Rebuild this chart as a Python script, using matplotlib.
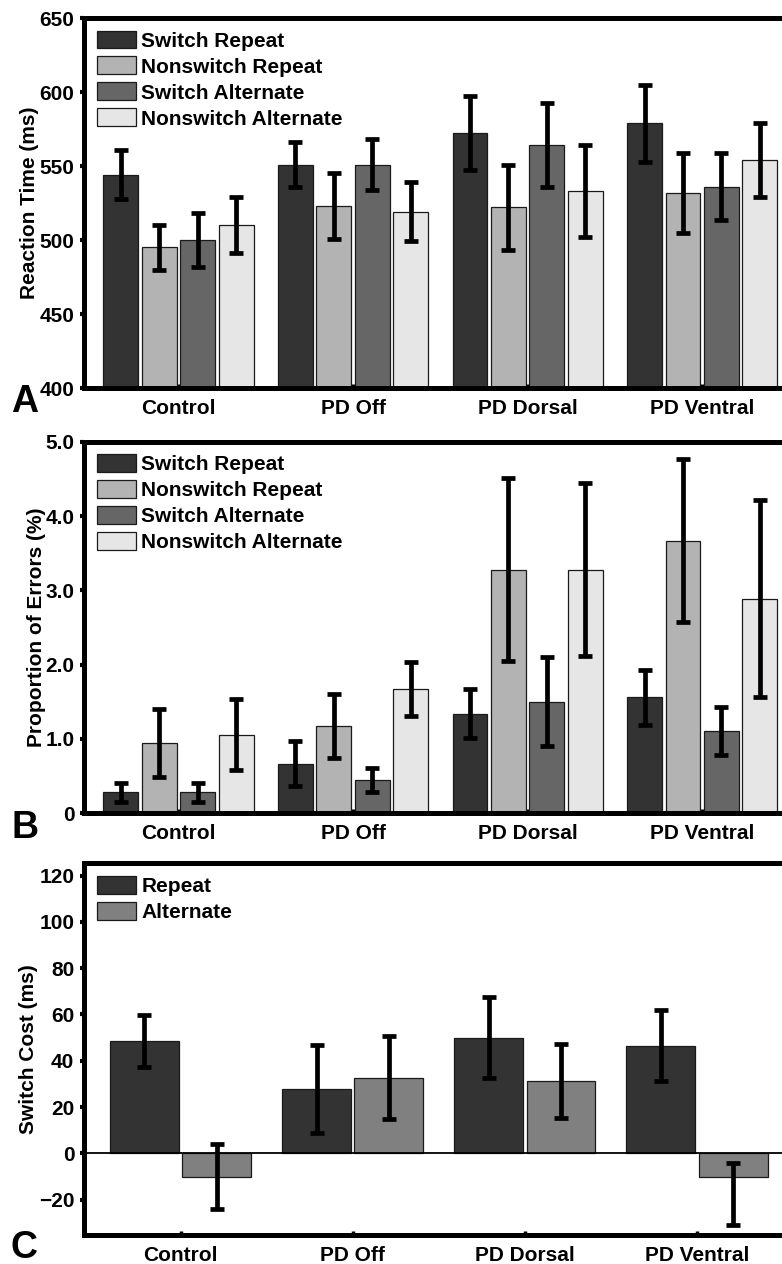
import matplotlib
matplotlib.use("Agg")
import matplotlib.pyplot as plt
import numpy as np

plt.rcParams['font.family'] = ['Liberation Sans', 'DejaVu Sans']
plt.rcParams['font.weight'] = 'bold'
plt.rcParams['axes.labelweight'] = 'bold'
plt.rcParams['font.size'] = 15

groups = ['Control', 'PD Off', 'PD Dorsal', 'PD Ventral']
conditions = ['Switch Repeat', 'Nonswitch Repeat', 'Switch Alternate', 'Nonswitch Alternate']

# reaction time (ms)
rt_switch_repeat = [544, 551, 572, 579]
rt_switch_repeat_err = [16.5, 15, 25, 26]
rt_nonswitch_repeat = [495, 523, 522, 532]
rt_nonswitch_repeat_err = [15, 22, 28.5, 27]
rt_switch_alt = [500, 551, 564, 536]
rt_switch_alt_err = [18, 17, 28.5, 22.5]
rt_nonswitch_alt = [510, 519, 533, 554]
rt_nonswitch_alt_err = [19, 20, 31, 25]

# proportion of errors (%)
pe_switch_repeat = [0.28, 0.67, 1.34, 1.56]
pe_switch_repeat_err = [0.125, 0.30, 0.33, 0.37]
pe_nonswitch_repeat = [0.95, 1.17, 3.28, 3.67]
pe_nonswitch_repeat_err = [0.46, 0.43, 1.23, 1.10]
pe_switch_alt = [0.28, 0.45, 1.50, 1.11]
pe_switch_alt_err = [0.125, 0.165, 0.60, 0.32]
pe_nonswitch_alt = [1.06, 1.67, 3.28, 2.89]
pe_nonswitch_alt_err = [0.48, 0.36, 1.17, 1.33]

# switch cost (ms)
cost_labels = ['Repeat', 'Alternate']
cost_repeat = [48.5, 27.6, 50.0, 46.5]
cost_repeat_err_lo = [11.3, 19, 17.6, 15.3]
cost_repeat_err_hi = [11.3, 19, 17.6, 15.3]
cost_alt = [-10.1, 32.7, 31.4, -10.1]
cost_alt_err_lo = [14, 18, 16, 20.9]
cost_alt_err_hi = [14, 18, 16, 5.8]

four_colors = ['#333333', '#b3b3b3', '#666666', '#e6e6e6']
two_colors = ['#333333', '#808080']

W, H = 782, 1264
fig = plt.figure(figsize=(W / 100, H / 100), dpi=100)


def make_axes(top_px, bottom_px):
    ax = fig.add_axes([84 / W, 1 - bottom_px / H, 1 - 84 / W, (bottom_px - top_px) / H])
    for side in ['left', 'top', 'bottom']:
        ax.spines[side].set_linewidth(3.6)
    ax.spines['right'].set_visible(False)
    ax.tick_params(axis='y', direction='out', length=3, width=3, pad=4)
    ax.tick_params(axis='x', direction='in', length=3, width=2.5, pad=8)
    return ax


def draw_bars(ax, series, errs, colors, labels, width, step):
    x = np.arange(1, len(groups) + 1)
    n = len(series)
    for i in range(n):
        pos = x + (i - (n - 1) / 2) * step
        ax.bar(pos, series[i], width, color=colors[i], edgecolor='#1a1a1a',
               linewidth=0.9, label=labels[i], zorder=2)
        ax.errorbar(pos, series[i], yerr=errs[i], fmt='none', ecolor='black',
                    elinewidth=3.4, capsize=4.7, capthick=3.4, zorder=3)
    ax.set_xticks(x)
    ax.set_xticklabels(groups)


def add_legend(ax):
    ax.legend(loc='upper left', bbox_to_anchor=(0, 1), borderaxespad=0,
              borderpad=0.6, frameon=False, handlelength=1.9, handleheight=0.95,
              handletextpad=0.25, labelspacing=0.28)


# panel A
axA = make_axes(18, 388)
draw_bars(axA,
          [rt_switch_repeat, rt_nonswitch_repeat, rt_switch_alt, rt_nonswitch_alt],
          [rt_switch_repeat_err, rt_nonswitch_repeat_err, rt_switch_alt_err, rt_nonswitch_alt_err],
          four_colors, conditions, 0.2, 0.22)
axA.set_xlim(0.459, 4.457)
axA.set_ylim(400, 650)
axA.set_yticks([400, 450, 500, 550, 600, 650])
axA.set_ylabel('Reaction Time (ms)')
axA.yaxis.set_label_coords(-0.065, 0.5)
add_legend(axA)

# panel B
axB = make_axes(441.7, 813.3)
draw_bars(axB,
          [pe_switch_repeat, pe_nonswitch_repeat, pe_switch_alt, pe_nonswitch_alt],
          [pe_switch_repeat_err, pe_nonswitch_repeat_err, pe_switch_alt_err, pe_nonswitch_alt_err],
          four_colors, conditions, 0.2, 0.22)
axB.set_xlim(0.459, 4.457)
axB.set_ylim(0, 5)
axB.set_yticks([0, 1, 2, 3, 4, 5])
axB.set_yticklabels(['0', '1.0', '2.0', '3.0', '4.0', '5.0'])
axB.set_ylabel('Proportion of Errors (%)')
axB.yaxis.set_label_coords(-0.055, 0.5)
add_legend(axB)

# panel C
axC = make_axes(863.3, 1235)
draw_bars(axC, [cost_repeat, cost_alt],
          [[cost_repeat_err_lo, cost_repeat_err_hi], [cost_alt_err_lo, cost_alt_err_hi]],
          two_colors, cost_labels, 0.40, 0.42)
axC.axhline(0, color='black', linewidth=1.3, zorder=2.5)
axC.set_xlim(0.439, 4.494)
axC.set_ylim(-35.3, 125.3)
axC.set_yticks([-20, 0, 20, 40, 60, 80, 100, 120])
axC.set_yticklabels(['\u221220', '0', '20', '40', '60', '80', '100', '120'])
axC.set_ylabel('Switch Cost (ms)')
axC.yaxis.set_label_coords(-0.066, 0.5)
add_legend(axC)

# panel letters
for letter, y_px in [('A', 412), ('B', 838), ('C', 1258)]:
    fig.text(11 / W, 1 - y_px / H, letter, fontsize=27, fontweight='bold',
             ha='left', va='baseline')

fig.savefig('out.png', dpi=100)
